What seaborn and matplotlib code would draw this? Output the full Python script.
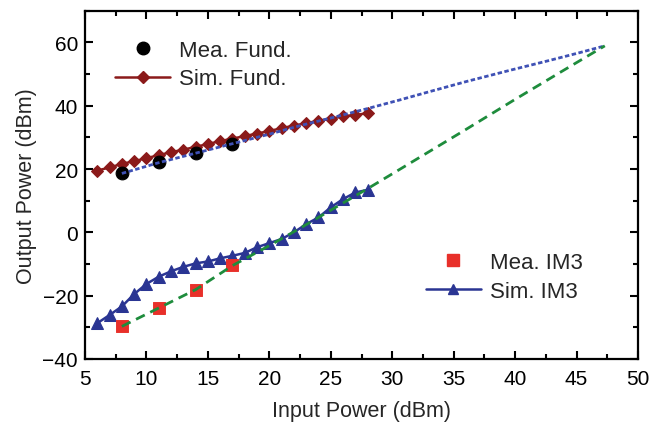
import numpy as np
import pandas as pd
import matplotlib
matplotlib.use("Agg")
import matplotlib.pyplot as plt
from matplotlib.lines import Line2D
from matplotlib.ticker import MultipleLocator
import seaborn as sns

# ---- data ----
sim_x = list(range(6, 29))
sim_fund = [19.5, 20.5, 21.6, 22.5, 23.4, 24.4, 25.3, 26.1, 27.0, 27.9, 28.8, 29.6,
            30.4, 31.2, 32.0, 32.9, 33.7, 34.5, 35.2, 35.9, 36.6, 37.1, 37.6]
sim_im3 = [-28.7, -26.1, -23.4, -19.5, -16.3, -14.0, -12.3, -10.9, -9.8, -9.2, -8.2, -7.4,
           -6.5, -4.7, -3.4, -2.1, 0.0, 2.6, 4.7, 7.9, 10.5, 12.6, 13.4]
mea_x = [8, 11, 14, 17]
mea_fund = [18.6, 22.1, 25.0, 27.9]
mea_im3 = [-29.7, -23.9, -18.1, -10.2]
fit_fund_x = [8, 11, 14, 17, 20, 22.5, 25.2, 28, 30.6, 33, 36, 39.6, 42.8, 45.3, 47.3]
fit_fund_y = [18.6, 22.0, 25.0, 28.0, 31.0, 33.7, 36.3, 39.1, 41.8, 44.4, 47.6, 51.2, 54.3, 56.8, 58.9]
fit_im3_x = [8, 11, 14, 17, 20, 22.5, 25, 28, 31, 36, 40, 44, 47.3]
fit_im3_y = [-29.7, -23.9, -18.1, -10.5, -4.2, 1.3, 7.0, 13.8, 20.8, 32.5, 42.0, 51.3, 58.9]

xticks = [5, 10, 15, 20, 25, 30, 35, 40, 45, 50]
yticks = [-40, -20, 0, 20, 40, 60]

# ---- colors ----
c_simfund = "#8B1A1A"
c_meafund = "#000000"
c_meaim3 = "#E8302A"
c_simim3 = "#2A3593"
c_dot = "#3F51B5"
c_dash = "#1E8C3C"

sns.set_style("ticks")
plt.rcParams["font.family"] = ["Liberation Sans", "DejaVu Sans"]

fig = plt.figure(figsize=(6.68, 4.27), dpi=100)
ax = fig.add_axes([85 / 668, 1 - 360 / 427, (638 - 85) / 668, (360 - 11.7) / 427])

df_sim = pd.DataFrame({"x": sim_x, "fund": sim_fund, "im3": sim_im3})
df_mea = pd.DataFrame({"x": mea_x, "fund": mea_fund, "im3": mea_im3})

sns.lineplot(data=df_sim, x="x", y="fund", color=c_simfund, lw=1.8, marker="D",
             markersize=6.5, markeredgecolor=c_simfund, ax=ax, zorder=3)
sns.lineplot(data=df_sim, x="x", y="im3", color=c_simim3, lw=1.8, marker="^",
             markersize=8, markeredgecolor=c_simim3, ax=ax, zorder=3)
sns.scatterplot(data=df_mea, x="x", y="fund", color=c_meafund, marker="o", s=85,
                edgecolor=c_meafund, ax=ax, zorder=4)
sns.scatterplot(data=df_mea, x="x", y="im3", color=c_meaim3, marker="s", s=70,
                edgecolor=c_meaim3, ax=ax, zorder=4)
sns.lineplot(x=fit_fund_x, y=fit_fund_y, color=c_dot, lw=2.0, linestyle=(0, (1.6, 0.9)),
             ax=ax, zorder=5)
sns.lineplot(x=fit_im3_x, y=fit_im3_y, color=c_dash, lw=2.0, linestyle=(0, (3.5, 2.2)),
             ax=ax, zorder=5)

ax.set_xlim(5, 50)
ax.set_ylim(-40, 70)
ax.set_xticks(xticks)
ax.set_yticks(yticks)
ax.xaxis.set_minor_locator(MultipleLocator(2.5))
ax.yaxis.set_minor_locator(MultipleLocator(10))
ax.tick_params(which="both", direction="in", top=True, right=True, width=1.5,
               labelsize=15, colors="black")
ax.tick_params(which="major", length=6)
ax.tick_params(which="minor", length=3.5)
ax.tick_params(axis="x", which="major", pad=7)
ax.tick_params(axis="y", which="major", pad=5)
for s in ax.spines.values():
    s.set_linewidth(1.6)
    s.set_color("black")
ax.set_xlabel("Input Power (dBm)", fontsize=15.5, labelpad=9)
ax.set_ylabel("Output Power (dBm)", fontsize=15.5, labelpad=4)

h1 = [Line2D([], [], ls="none", marker="o", color=c_meafund, markersize=9),
      Line2D([], [], color=c_simfund, lw=1.8, marker="D", markersize=6)]
leg1 = ax.legend(h1, ["Mea. Fund.", "Sim. Fund."], loc="upper left",
                 bbox_to_anchor=(0.03, 0.955), frameon=False, fontsize=16,
                 handlelength=2.5, handletextpad=0.4, labelspacing=0.35,
                 borderaxespad=0.2)
ax.add_artist(leg1)
h2 = [Line2D([], [], ls="none", marker="s", color=c_meaim3, markersize=8),
      Line2D([], [], color=c_simim3, lw=1.8, marker="^", markersize=7)]
ax.legend(h2, ["Mea. IM3", "Sim. IM3"], loc="upper left",
          bbox_to_anchor=(0.592, 0.345), frameon=False, fontsize=16,
          handlelength=2.5, handletextpad=0.4, labelspacing=0.35, borderaxespad=0.2)

fig.savefig("out.png", dpi=100)
